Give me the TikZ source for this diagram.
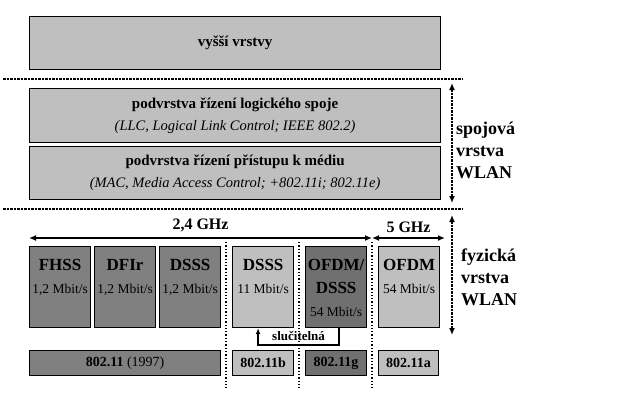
\documentclass[tikz,border=0pt]{standalone}
\usepackage{fontspec}
\setmainfont{Liberation Serif}
\usetikzlibrary{arrows.meta,positioning}
\tikzstyle{box}=[draw,line width=1.2pt,anchor=north west,inner sep=0pt]
\tikzstyle{lightbox}=[box,fill=black!25]
\tikzstyle{darkbox}=[box,fill=black!50]
\tikzstyle{darkerbox}=[box,fill=black!56]
\tikzstyle{headtext}=[font=\fontsize{15}{21}\selectfont\bfseries,align=center]
\tikzstyle{boxtext}=[font=\fontsize{13.5}{23}\selectfont,align=center,inner sep=0pt,anchor=north]
\tikzstyle{sidetext}=[font=\fontsize{18}{22}\selectfont\bfseries,align=left,anchor=west,inner sep=0pt]
\tikzstyle{cutline}=[line width=1.5pt,dash pattern=on 2.5pt off 1pt]
\tikzstyle{bandline}=[line width=1.3pt,dotted]
\tikzstyle{bandspan}=[line width=1.6pt,{Latex[length=7pt,width=6pt]}-{Latex[length=7pt,width=6pt]}]
\tikzstyle{layerspan}=[line width=1.5pt,dash pattern=on 2.5pt off 1pt,{Latex[length=7pt,width=6pt]}-{Latex[length=7pt,width=6pt]}]

\begin{document}
\begin{tikzpicture}[x=1pt,y=-1pt]
    \useasboundingbox (0,0) rectangle (629,402);

    % First the upper layers
    \node[lightbox,minimum width=411pt,minimum height=53pt,headtext] (upper) at (29,16) {vyšší vrstvy};
    \node[lightbox,minimum width=411pt,minimum height=54pt,headtext] (llc) at (29,88)
        {podvrstva řízení logického spoje\\[1pt]{\fontsize{14.5}{21}\selectfont\mdseries\itshape (LLC, Logical Link Control; IEEE 802.2)}};
    \node[lightbox,minimum width=411pt,minimum height=53pt,headtext] (mac) at (29,146)
        {podvrstva řízení přístupu k médiu\\[1pt]{\fontsize{14.5}{21}\selectfont\mdseries\itshape (MAC, Media Access Control; +802.11i; 802.11e)}};

    % Separating lines
    \coordinate (cutA) at (3,79);
    \coordinate (cutB) at (463,79);
    \coordinate (cutC) at (3,209);
    \coordinate (cutD) at (463,209);
    \draw[cutline] (cutA) -- (cutB);
    \draw[cutline] (cutC) -- (cutD);

    % Physical layer boxes
    \foreach \x/\name/\style in {29/fhss/darkbox, 94/dfir/darkbox, 159/dsss/darkbox, 232/dsssb/lightbox, 305/ofdmg/darkerbox, 378/ofdma/lightbox}
        \node[\style,minimum width=61pt,minimum height=81pt] (\name) at (\x,246) {};

    \foreach \name/\kind/\rate in {fhss/FHSS/{1,2 Mbit/s}, dfir/DFIr/{1,2 Mbit/s}, dsss/DSSS/{1,2 Mbit/s}, dsssb/DSSS/{11 Mbit/s}, ofdma/OFDM/{54 Mbit/s}}
        \node[boxtext] (\name-txt) at ([yshift=-13pt]\name.north) {{\fontsize{17}{22}\selectfont\bfseries \kind}\\\rate};
    \node[boxtext] (ofdmg-txt) at ([yshift=-13pt]ofdmg.north)
        {{\fontsize{17}{22}\selectfont\bfseries OFDM/}\\{\fontsize{17}{22}\selectfont\bfseries DSSS}\\54 Mbit/s};

    % Standards
    \foreach \x/\w/\name/\style/\txt in {29/191/std/darkbox/{\textbf{802.11} (1997)}, 232/61/stdb/lightbox/\textbf{802.11b}, 305/61/stdg/darkerbox/\textbf{802.11g}, 378/60/stda/lightbox/\textbf{802.11a}}
        \node[\style,minimum width=\w pt,minimum height=25pt,font=\fontsize{14}{16}\selectfont] (\name) at (\x,350) {\txt};

    % Band dividers
    \foreach \x/\name in {226/divA, 299/divB, 372/divC}
    {
        \coordinate (\name-top) at (\x,242);
        \coordinate (\name-bot) at (\x,388);
        \draw[bandline] (\name-top) -- (\name-bot);
    }

    % Frequency bands
    \coordinate (bandEnd) at (445,238);
    \draw[bandspan] ([yshift=8pt]fhss.north west) -- (divC-top |- bandEnd) node[midway,above=1.5pt,font=\fontsize{16}{20}\selectfont\bfseries] (lowband) {2,4 GHz};
    \draw[bandspan] (divC-top |- bandEnd) -- (bandEnd) node[midway,above=1.5pt,font=\fontsize{16}{20}\selectfont\bfseries] (highband) {5 GHz};

    % Compatibility
    \draw[line width=1.6pt,-{Latex[length=6pt,width=5pt]}] ([xshift=3pt]ofdmg.south) -- ++(0,17) -| ([xshift=-5pt]dsssb.south)
        node[pos=0.25,above=0.5pt,font=\fontsize{13}{15}\selectfont\bfseries] (compat) {slučitelná};

    % Layer ranges
    \coordinate (linkTop) at (452,83);
    \coordinate (linkBot) at (452,203);
    \coordinate (physTop) at (452,215);
    \coordinate (physBot) at (452,335);
    \draw[layerspan] (linkTop) -- (linkBot);
    \draw[layerspan] (physTop) -- (physBot);
    \node[sidetext] (linklbl) at (456,150) {spojová\\vrstva\\WLAN};
    \node[sidetext] (physlbl) at (461,277) {fyzická\\vrstva\\WLAN};
\end{tikzpicture}
\end{document}
